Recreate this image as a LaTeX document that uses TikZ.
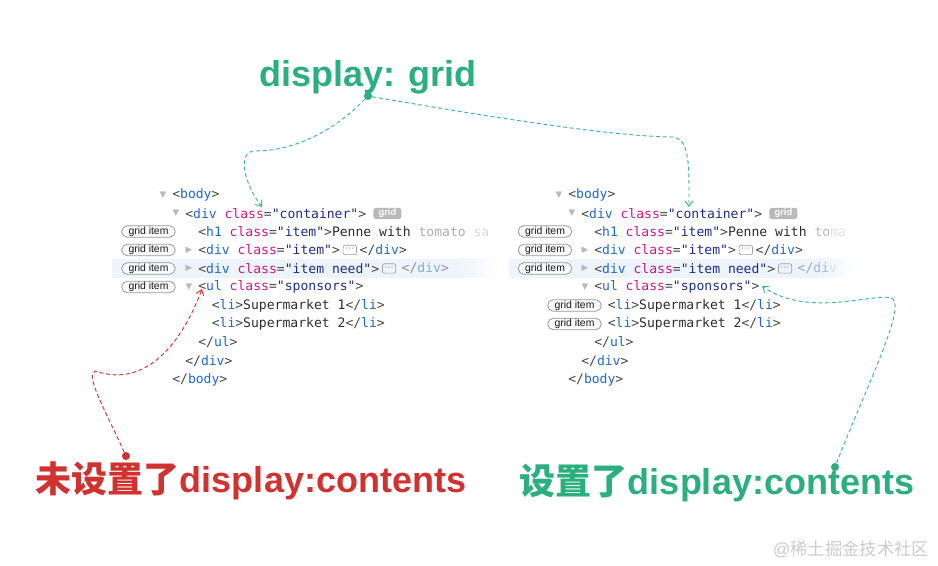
\documentclass[tikz,border=0pt]{standalone}
\usepackage{fontspec}
\setmainfont{Liberation Sans}
\newfontfamily\codefont{DejaVu Sans Mono}
\newfontfamily\symfont{DejaVu Sans}
\newfontfamily\cjk{Noto Sans CJK SC}
\usepackage{tikz}
\usetikzlibrary{arrows.meta, positioning}

\definecolor{tagname}{RGB}{30,105,205}
\definecolor{attrname}{RGB}{205,20,140}
\definecolor{attrval}{RGB}{30,45,140}
\definecolor{punc}{RGB}{70,70,70}
\definecolor{txt}{RGB}{45,45,45}
\definecolor{annogreen}{RGB}{43,175,126}
\definecolor{linegreen}{RGB}{60,185,140}
\definecolor{annored}{RGB}{208,50,48}
\definecolor{hoverrow}{RGB}{238,244,251}

\newcommand{\tagO}[1]{\textcolor{punc}{<}\textcolor{tagname}{#1}}
\newcommand{\tagE}{\textcolor{punc}{>}}
\newcommand{\tagC}[1]{\textcolor{punc}{</}\textcolor{tagname}{#1}\textcolor{punc}{>}}
\newcommand{\attr}[2]{\textcolor{attrname}{#1}\textcolor{punc}{=}\textcolor{attrval}{"#2"}}

\tikzset{
  code/.style={anchor=west, inner sep=0pt, text=txt, font=\codefont\fontsize{9.8}{12}\selectfont},
  tri/.style={inner sep=0pt, text=gray!55, font=\symfont\fontsize{6.5}{6.5}\selectfont},
  badge/.style={draw=gray!80, fill=gray!4, rounded corners=4pt, line width=0.6pt, minimum width=40pt, minimum height=8.5pt, inner sep=0pt, text=black!90, font=\fontsize{7.8}{7.8}\selectfont},
  gridtag/.style={fill=gray!55, rounded corners=2pt, minimum width=21pt, minimum height=8.5pt, inner sep=0pt, text=white, font=\bfseries\fontsize{7}{7}\selectfont},
  ellip/.style={draw=gray!75, rounded corners=1.5pt, line width=0.5pt, minimum width=10pt, minimum height=7pt, inner sep=0pt, text=gray!90, font=\symfont\fontsize{7}{7}\selectfont},
  anno/.style={font=\bfseries\fontsize{27}{30}\selectfont},
  dot/.style={circle, inner sep=0pt, minimum size=6pt},
  conn/.style={dashed, dash pattern=on 3pt off 2pt, line width=0.7pt, -{Straight Barb[length=4pt, width=6pt]}},
}

% one devtools tree, positions of the left copy
\newcommand{\htmlpanel}[2]{%
  \node[tri] (bodytri) at (163,195) {▼};
  \node[code] (body) at (172,195) {\tagO{body}\tagE};
  \node[tri] (divtri) at (176,213.5) {▼};
  \node[code] (container) at (185,213.5) {\tagO{div} \attr{class}{container}\tagE};
  \node[gridtag, right=5pt of container] (gridbadge) {grid};
  \node[code] (h1) at (198,231.5) {\tagO{h1} \attr{class}{item}\tagE #1};
  \node[tri] (itemtri) at (189,250) {▶};
  \node[code] (item) at (198,250) {\tagO{div} \attr{class}{item}\tagE};
  \node[ellip, right=2pt of item] (itemdots) {⋯};
  \node[code, right=2pt of itemdots] (itemend) {\tagC{div}};
  \node[tri] (needtri) at (189,268.5) {▶};
  \node[code] (need) at (198,268.5) {\tagO{div} \attr{class}{item need}\tagE};
  \node[ellip, right=2pt of need] (needdots) {⋯};
  \node[code, right=4pt of needdots] (needend) {#2};
  \node[tri] (ultri) at (189,287) {▼};
  \node[code] (ul) at (198,287) {\tagO{ul} \attr{class}{sponsors}\tagE};
  \node[code] (li1) at (211.5,305.5) {\tagO{li}\tagE Supermarket 1\tagC{li}};
  \node[code] (li2) at (211.5,324) {\tagO{li}\tagE Supermarket 2\tagC{li}};
  \node[code] (ulend) at (198,342.5) {\tagC{ul}};
  \node[code] (divend) at (185,361) {\tagC{div}};
  \node[code] (bodyend) at (172,379.5) {\tagC{body}};
}

\begin{document}
\begin{tikzpicture}[x=0.75pt, y=-0.75pt]
  \useasboundingbox (0,0) rectangle (938,566);

  % hovered rows
  \fill[hoverrow] (112,259) rectangle (458,278);
  \shade[left color=hoverrow, right color=white] (458,259) rectangle (500,278);
  \fill[hoverrow] (509,259) rectangle (815,278);
  \shade[left color=hoverrow, right color=white] (815,259) rectangle (860,278);

  \begin{scope}[name prefix=l-]
    \htmlpanel{Penne with \textcolor{gray!65}{tomato} \textcolor{gray!30}{sa}}%
      {\textcolor{punc!60}{</}\textcolor{tagname!55}{div}\textcolor{punc!60}{>}}
  \end{scope}
  \begin{scope}[shift={(396,0)}, name prefix=r-]
    \htmlpanel{Penne with \textcolor{gray!55}{to}\textcolor{gray!25}{ma}}%
      {\textcolor{punc!50}{</}\textcolor{tagname!45}{di}\textcolor{tagname!20}{v}}
  \end{scope}

  % grid item badges
  \node[badge] (lb1) at (148.5,231.5) {grid item};
  \node[badge] (lb2) at (148.5,250) {grid item};
  \node[badge] (lb3) at (148.5,268.5) {grid item};
  \node[badge] (lb4) at (148.5,287) {grid item};
  \node[badge] (rb1) at (545,231.5) {grid item};
  \node[badge] (rb2) at (545,250) {grid item};
  \node[badge] (rb3) at (545,268.5) {grid item};
  \node[badge] (rb4) at (574.5,305.5) {grid item};
  \node[badge] (rb5) at (574.5,324) {grid item};

  % notes
  \node[anno, text=annogreen] (grid) at (368,77) {display: grid};
  \node[dot, fill=annogreen] (gdot) at (368,96) {};
  \node[anno, text=annored] (unset) at (251,481) {{\cjk 未设置了}display:contents};
  \node[dot, fill=annored] (rdot) at (126,456) {};
  \node[anno, text=annogreen] (set) at (717,483) {{\cjk 设置了}display:contents};
  \node[dot, fill=annogreen] (bdot) at (835,467) {};
  \node[text=gray!40, font=\fontsize{13}{13}\selectfont] (wm) at (851,549) {@{\cjk 稀土掘金技术社区}};

  \coordinate (lcontainer) at (262,207);
  \coordinate (rcontainer) at (689,207);
  \coordinate (lul) at (202,289);
  \coordinate (rul) at (762,286);

  \draw[conn, linegreen] (gdot) .. controls (330,135) and (290,151) .. (255,151)
    .. controls (238,151) and (242,180) .. (lcontainer);
  \draw[conn, linegreen] (gdot) .. controls (450,110) and (600,136) .. (672,137)
    .. controls (690,138) and (689,165) .. (rcontainer);
  \draw[conn, annored] (rdot) .. controls (105,410) and (85,375) .. (95,371)
    .. controls (150,390) and (185,335) .. (lul);
  \draw[conn, linegreen] (bdot) .. controls (865,390) and (905,310) .. (893,299)
    .. controls (880,290) and (810,320) .. (rul);
\end{tikzpicture}
\end{document}
